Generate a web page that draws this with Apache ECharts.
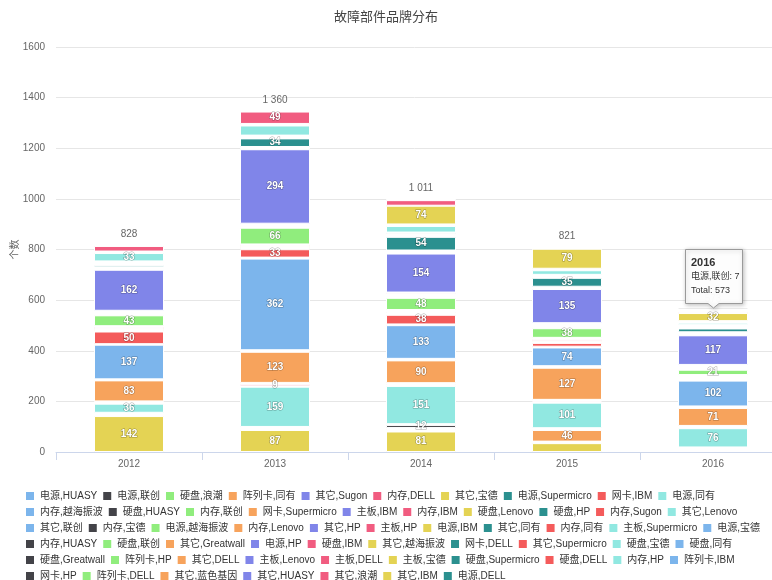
<!DOCTYPE html>
<html>
<head>
<meta charset="utf-8">
<script src="https://cdn.jsdelivr.net/npm/echarts@6/dist/echarts.min.js"></script>
<style>
html,body{margin:0;padding:0;background:#fff;}
#main{width:772px;height:580px;}
</style>
</head>
<body>
<div id="main"></div>
<script>
const categories = ['2012', '2013', '2014', '2015', '2016'];
const seriesNames = [
  '电源,HUASY', '电源,联创', '硬盘,浪潮', '阵列卡,同有', '其它,Sugon', '内存,DELL', '其它,宝德', '电源,Supermicro', '网卡,IBM', '电源,同有',
  '内存,越海振波', '硬盘,HUASY', '内存,联创', '网卡,Supermicro', '主板,IBM', '内存,IBM', '硬盘,Lenovo', '硬盘,HP', '内存,Sugon', '其它,Lenovo',
  '其它,联创', '内存,宝德', '电源,越海振波', '内存,Lenovo', '其它,HP', '主板,HP', '电源,IBM', '其它,同有', '内存,同有', '主板,Supermicro',
  '电源,宝德', '内存,HUASY', '硬盘,联创', '其它,Greatwall', '电源,HP', '硬盘,IBM', '其它,越海振波', '网卡,DELL', '其它,Supermicro', '硬盘,宝德',
  '硬盘,同有', '硬盘,Greatwall', '阵列卡,HP', '其它,DELL', '主板,Lenovo', '主板,DELL', '主板,宝德', '硬盘,Supermicro', '硬盘,DELL', '内存,HP',
  '阵列卡,IBM', '网卡,HP', '阵列卡,DELL', '其它,蓝色基因', '其它,HUASY', '其它,浪潮', '其它,IBM', '电源,DELL'
];
// values per year, in the same order as seriesNames
const v2012 = [3,3,2,2,4,22,0,3,3,33, 3,3,3,0,3,3,0,8,2,0, 3,2,3,0,162,3,2,3,3,0, 4,3,43,0,3,8,8,2,50,2, 137,2,2,83,3,4,0,2,0,36, 3,3,0,4,0,3,142,0];
const v2013 = [3,3,3,3,3,49,2,2,2,40, 3,0,3,0,2,3,0,34,3,0, 3,0,3,0,294,4,2,2,3,0, 3,2,66,0,0,6,8,5,33,4, 362,3,3,123,4,9,0,2,0,159, 3,4,0,3,2,0,87,0];
const v2014 = [3,4,3,3,3,22,74,3,3,26, 3,5,3,0,3,3,0,54,3,0, 3,3,3,0,154,5,3,3,4,0, 3,3,48,3,4,5,4,3,38,3, 133,3,3,90,3,5,0,3,0,151, 3,12,3,5,3,3,81,0];
const v2015 = [3,3,2,3,3,4,79,3,3,18, 3,0,3,0,3,3,0,35,3,0, 3,0,3,0,135,4,0,3,3,3, 4,3,38,3,3,5,6,3,15,3, 74,3,3,127,3,5,0,3,0,101, 2,3,2,46,3,3,35,0];
const v2016 = [3,7,3,2,3,6,32,3,3,8, 3,3,3,0,3,3,0,15,3,3, 3,0,3,0,117,3,3,3,3,0, 4,3,21,3,3,4,3,3,3,3, 102,3,3,71,3,3,0,3,0,76, 3,3,0,3,0,3,2,4];
const yearValues = [v2012, v2013, v2014, v2015, v2016];

const palette = ['#7cb5ec','#434348','#90ed7d','#f7a35c','#8085e9','#f15c80','#e4d354','#2b908f','#f45b5b','#91e8e1'];
const FONT = '"Liberation Sans", "Noto Sans CJK SC", sans-serif';

const totals = yearValues.map(arr => arr.reduce((a, b) => a + b, 0));
function fmtNum(n) { return String(n).replace(/\B(?=(\d{3})+(?!\d))/g, ' '); }

const series = [];
for (let i = seriesNames.length - 1; i >= 0; i--) {
  series.push({
    name: seriesNames[i],
    type: 'bar',
    stack: 'total',
    barWidth: 70,
    data: yearValues.map(arr => arr[i] === 0 ? null : arr[i]),
    itemStyle: { color: palette[i % 10], borderColor: '#ffffff', borderWidth: 1 },
    label: {
      show: true,
      position: 'inside',
      color: '#ffffff',
      fontSize: 10,
      lineHeight: 12,
      padding: [1.25, 0],
      fontWeight: 'bold',
      fontFamily: FONT,
      textBorderColor: 'rgba(0,0,0,0.35)',
      textBorderWidth: 1,
      formatter: p => (p.value >= 9 ? String(p.value) : '')
    },
    labelLayout: { hideOverlap: true },
    emphasis: { disabled: true },
    animation: false
  });
}
series.push({
  name: '总计',
  type: 'bar',
  barGap: '-100%',
  barWidth: 70,
  data: totals,
  itemStyle: { color: 'rgba(0,0,0,0)', borderWidth: 0 },
  label: { show: true, position: 'top', distance: 3, color: '#666666', fontSize: 10, fontFamily: FONT, formatter: p => fmtNum(p.value) },
  silent: true,
  z: 1,
  animation: false
});

const chart = echarts.init(document.getElementById('main'), null, { renderer: 'canvas' });
chart.setOption({
  animation: false,
  backgroundColor: '#ffffff',
  title: {
    text: '故障部件品牌分布',
    left: 'center',
    top: 6,
    textStyle: { fontSize: 13, fontWeight: 'normal', color: '#444', fontFamily: FONT }
  },
  grid: { left: 56, right: -14, top: 47, bottom: 128, containLabel: false, outerBoundsMode: 'none' },
  xAxis: {
    type: 'category',
    data: categories,
    axisLine: { lineStyle: { color: '#ccd6eb' } },
    axisTick: { show: true, length: 8, lineStyle: { color: '#ccd6eb' } },
    axisLabel: { color: '#666666', fontSize: 10, margin: 7, fontFamily: FONT }
  },
  yAxis: {
    type: 'value',
    min: 0,
    max: 1600,
    interval: 200,
    name: '个数',
    nameLocation: 'middle',
    nameRotate: 90,
    nameGap: 36,
    nameMoveOverlap: false,
    nameTextStyle: { color: '#666666', fontSize: 10, fontFamily: FONT },
    axisLine: { show: false },
    axisTick: { show: false },
    splitLine: { lineStyle: { color: '#e6e6e6' } },
    axisLabel: { color: '#666666', fontSize: 10, margin: 11, fontFamily: FONT, formatter: v => String(v) }
  },
  legend: {
    data: seriesNames,
    left: 24,
    right: 0,
    top: 490,
    padding: 0,
    itemWidth: 10,
    itemHeight: 10,
    itemGap: 4,
    icon: 'rect',
    textStyle: { fontSize: 10, color: '#333333', fontFamily: FONT, lineHeight: 12 }
  },
  tooltip: { show: false },
  series: series
});

// hovered-point tooltip as in the reference (2016, 电源,联创)
const hoverYear = 4, hoverSeries = 1;
const anchor = chart.convertToPixel({ xAxisIndex: 0, yAxisIndex: 0 }, [categories[hoverYear], totals[hoverYear]]);
const bx = Math.round(anchor[0]) - 28, by = Math.round(anchor[1]) - 58;
chart.setOption({
  graphic: [{
    type: 'group',
    x: bx, y: by,
    children: [{
      type: 'polygon',
      z: 100,
      shape: { points: [[0.5,0.5],[57.5,0.5],[57.5,54.5],[34,54.5],[28.5,59],[23,54.5],[0.5,54.5]] },
      style: { fill: 'rgba(255,255,255,0.97)', stroke: '#9a9a9a', lineWidth: 1, shadowBlur: 4, shadowColor: 'rgba(0,0,0,0.25)', shadowOffsetX: 1, shadowOffsetY: 1 }
    }, {
      type: 'text',
      z: 101,
      x: 6, y: 7,
      style: {
        text: '{b|' + categories[hoverYear] + '}\n{n|' + seriesNames[hoverSeries] + ': ' + yearValues[hoverYear][hoverSeries] + '}\n{n|Total: ' + totals[hoverYear] + '}',
        rich: {
          b: { fontSize: 11, fontWeight: 'bold', fill: '#333', lineHeight: 14, fontFamily: FONT },
          n: { fontSize: 9, fill: '#333', lineHeight: 14, fontFamily: FONT }
        }
      }
    }]
  }]
});
</script>
</body>
</html>
